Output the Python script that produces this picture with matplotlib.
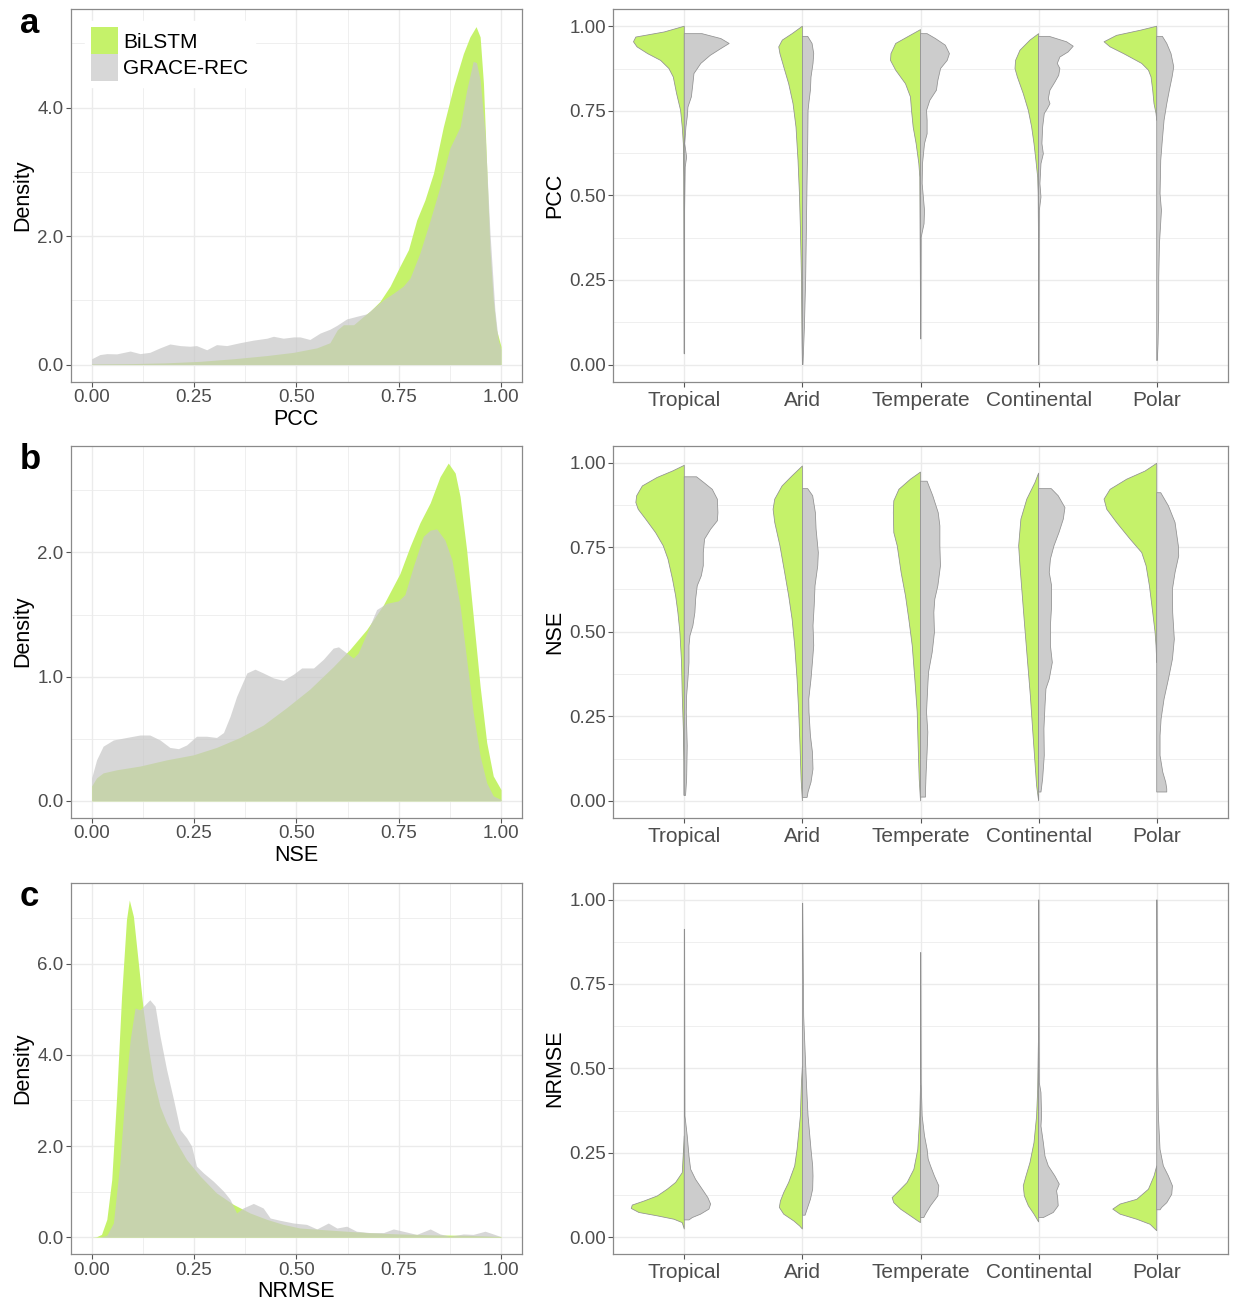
import numpy as np
import matplotlib
matplotlib.use("Agg")
import matplotlib.pyplot as plt
from matplotlib.patches import Patch, Polygon
from matplotlib.ticker import MultipleLocator, FixedLocator

plt.rcParams['font.family'] = ['Liberation Sans', 'DejaVu Sans']

categories = ["Tropical", "Arid", "Temperate", "Continental", "Polar"]
models = ["BiLSTM", "GRACE-REC"]
metrics = ["PCC", "NSE", "NRMSE"]
panel_letters = ["a", "b", "c"]

# ---------------- density curves (x, density) ----------------
pcc_bilstm_x = [0, 0.1, 0.18, 0.265, 0.346, 0.428, 0.493, 0.55, 0.582, 0.6, 0.615, 0.64, 0.664, 0.68,
                0.704, 0.729, 0.753, 0.774, 0.794, 0.814, 0.835, 0.859, 0.884, 0.908, 0.924, 0.939,
                0.949, 0.957, 0.965, 0.973, 0.981, 0.989, 1.0]
pcc_bilstm_y = [0.01, 0.015, 0.026, 0.05, 0.09, 0.14, 0.19, 0.26, 0.34, 0.54, 0.62, 0.62, 0.75, 0.83,
                0.98, 1.22, 1.53, 1.79, 2.25, 2.56, 2.98, 3.70, 4.33, 4.84, 5.10, 5.26,
                5.10, 4.38, 3.08, 1.79, 1.01, 0.54, 0.28]
pcc_grace_x = [0, 0.02, 0.037, 0.061, 0.094, 0.118, 0.142, 0.167, 0.191, 0.216, 0.24, 0.256, 0.281,
               0.305, 0.33, 0.362, 0.395, 0.428, 0.444, 0.468, 0.493, 0.509, 0.533, 0.558, 0.582,
               0.599, 0.623, 0.647, 0.672, 0.696, 0.713, 0.737, 0.761, 0.778, 0.802, 0.827, 0.851,
               0.875, 0.9, 0.916, 0.932, 0.94, 0.949, 0.961, 0.973, 0.985, 0.993, 1.0]
pcc_grace_y = [0.09, 0.155, 0.17, 0.166, 0.21, 0.17, 0.19, 0.26, 0.32, 0.295, 0.285, 0.295, 0.23,
               0.31, 0.295, 0.34, 0.38, 0.41, 0.44, 0.41, 0.43, 0.43, 0.39, 0.49, 0.55,
               0.61, 0.71, 0.75, 0.79, 0.92, 1.01, 1.11, 1.22, 1.35, 1.74, 2.25, 2.77,
               3.37, 3.70, 4.27, 4.72, 4.70, 4.43, 3.60, 2.05, 0.85, 0.39, 0.23]

nse_bilstm_x = [0, 0.012, 0.028, 0.061, 0.118, 0.183, 0.248, 0.305, 0.362, 0.419, 0.476, 0.533, 0.59,
                0.631, 0.672, 0.713, 0.753, 0.778, 0.802, 0.827, 0.851, 0.871, 0.888, 0.9, 0.916,
                0.932, 0.949, 0.965, 0.981, 1.0]
nse_bilstm_y = [0.12, 0.185, 0.225, 0.25, 0.28, 0.33, 0.37, 0.43, 0.51, 0.61, 0.75, 0.90, 1.08,
                1.22, 1.38, 1.58, 1.83, 2.05, 2.24, 2.40, 2.61, 2.72, 2.64, 2.45, 2.02,
                1.49, 0.92, 0.47, 0.20, 0.09]
nse_grace_x = [0, 0.012, 0.028, 0.053, 0.085, 0.118, 0.142, 0.167, 0.191, 0.212, 0.232, 0.256, 0.281,
               0.305, 0.322, 0.338, 0.354, 0.379, 0.399, 0.419, 0.444, 0.468, 0.493, 0.513, 0.542,
               0.566, 0.59, 0.603, 0.623, 0.639, 0.651, 0.672, 0.696, 0.72, 0.749, 0.765, 0.786,
               0.81, 0.827, 0.843, 0.863, 0.88, 0.9, 0.916, 0.932, 0.949, 0.965, 0.981, 1.0]
nse_grace_y = [0.185, 0.33, 0.44, 0.49, 0.51, 0.53, 0.53, 0.49, 0.43, 0.42, 0.45, 0.52, 0.52,
               0.51, 0.55, 0.68, 0.84, 1.03, 1.06, 1.03, 0.99, 0.97, 1.02, 1.07, 1.07,
               1.14, 1.23, 1.24, 1.19, 1.15, 1.19, 1.35, 1.54, 1.59, 1.61, 1.66, 1.89,
               2.13, 2.18, 2.19, 2.10, 1.94, 1.57, 1.14, 0.71, 0.36, 0.145, 0.04, 0.01]

nrmse_bilstm_x = [0, 0.012, 0.024, 0.037, 0.049, 0.061, 0.073, 0.085, 0.092, 0.102, 0.114, 0.126,
                  0.138, 0.151, 0.167, 0.183, 0.208, 0.232, 0.265, 0.305, 0.346, 0.387, 0.428,
                  0.468, 0.509, 0.59, 0.672, 0.753, 0.835, 0.916, 1.0]
nrmse_bilstm_y = [0, 0.01, 0.06, 0.39, 1.26, 3.09, 5.28, 6.97, 7.40, 7.04, 6.02, 4.99,
                  4.19, 3.46, 2.87, 2.51, 2.07, 1.70, 1.34, 0.97, 0.72, 0.53, 0.39,
                  0.28, 0.20, 0.15, 0.10, 0.07, 0.05, 0.04, 0.015]
nrmse_grace_x = [0, 0.02, 0.037, 0.053, 0.069, 0.081, 0.094, 0.106, 0.118, 0.13, 0.142, 0.155, 0.167,
                 0.183, 0.2, 0.216, 0.232, 0.244, 0.256, 0.273, 0.297, 0.322, 0.338, 0.354, 0.37,
                 0.395, 0.419, 0.436, 0.46, 0.493, 0.525, 0.55, 0.578, 0.599, 0.623, 0.647, 0.68,
                 0.713, 0.737, 0.761, 0.794, 0.827, 0.851, 0.875, 0.908, 0.932, 0.961, 0.981, 1.0]
nrmse_grace_y = [0, 0, 0.04, 0.31, 1.63, 3.09, 4.33, 5.03, 4.99, 5.10, 5.21, 5.07, 4.41,
                 3.68, 3.02, 2.36, 2.18, 2.0, 1.56, 1.41, 1.23, 1.01, 0.83, 0.53, 0.64,
                 0.74, 0.64, 0.42, 0.37, 0.31, 0.28, 0.18, 0.31, 0.20, 0.24, 0.13, 0.10,
                 0.10, 0.18, 0.13, 0.06, 0.18, 0.07, 0.02, 0.07, 0.06, 0.13, 0.07, 0.01]

# ---------------- half-violin profiles: (metric value, half width) ----------------
pcc_bilstm_violin = {
    "Tropical": ([1.0, 0.983, 0.968, 0.954, 0.939, 0.919, 0.899, 0.875, 0.850, 0.801, 0.751, 0.702, 0.653, 0.554, 0.30, 0.032],
                 [0, 0.17, 0.41, 0.43, 0.40, 0.31, 0.20, 0.13, 0.093, 0.065, 0.031, 0.017, 0.008, 0.004, 0.002, 0.0]),
    "Arid": ([1.0, 0.978, 0.959, 0.939, 0.919, 0.880, 0.830, 0.771, 0.702, 0.604, 0.505, 0.406, 0.258, 0.061, 0.0],
             [0, 0.087, 0.17, 0.20, 0.19, 0.158, 0.116, 0.079, 0.054, 0.037, 0.025, 0.017, 0.008, 0.003, 0.0]),
    "Temperate": ([0.990, 0.968, 0.949, 0.919, 0.899, 0.870, 0.830, 0.791, 0.751, 0.702, 0.653, 0.594, 0.554, 0.357, 0.16],
                  [0, 0.113, 0.21, 0.25, 0.254, 0.21, 0.127, 0.085, 0.076, 0.062, 0.037, 0.014, 0.006, 0.003, 0.0]),
    "Continental": ([0.978, 0.959, 0.929, 0.899, 0.875, 0.850, 0.801, 0.751, 0.702, 0.653, 0.604, 0.554, 0.505, 0.406, 0.0],
                    [0, 0.073, 0.158, 0.195, 0.20, 0.18, 0.13, 0.087, 0.059, 0.039, 0.023, 0.008, 0.004, 0.002, 0.0]),
    "Polar": ([1.0, 0.988, 0.973, 0.954, 0.939, 0.919, 0.890, 0.870, 0.850, 0.811, 0.771, 0.742, 0.722],
              [0, 0.14, 0.34, 0.446, 0.395, 0.28, 0.127, 0.07, 0.048, 0.034, 0.023, 0.006, 0.0]),
}
pcc_grace_violin = {
    "Tropical": ([0.978, 0.9635, 0.949, 0.934, 0.914, 0.890, 0.860, 0.830, 0.791, 0.761, 0.732, 0.702, 0.653, 0.613, 0.584, 0.456, 0.032],
                 [0.15, 0.31, 0.38, 0.31, 0.22, 0.14, 0.082, 0.073, 0.06, 0.031, 0.025, 0.014, 0.004, 0.02, 0.008, 0.003, 0.003]),
    "Arid": ([0.970, 0.949, 0.919, 0.890, 0.850, 0.811, 0.771, 0.751, 0.653, 0.554, 0.406, 0.258, 0.110, 0.0],
             [0.045, 0.082, 0.096, 0.09, 0.073, 0.068, 0.054, 0.048, 0.045, 0.04, 0.034, 0.028, 0.017, 0.005]),
    "Temperate": ([0.978, 0.9635, 0.944, 0.919, 0.899, 0.875, 0.840, 0.811, 0.781, 0.751, 0.722, 0.682, 0.653, 0.594, 0.535, 0.456, 0.416, 0.377, 0.258, 0.076],
                  [0.056, 0.127, 0.21, 0.245, 0.226, 0.17, 0.147, 0.135, 0.079, 0.051, 0.056, 0.056, 0.034, 0.017, 0.014, 0.034, 0.03, 0.006, 0.005, 0.004]),
    "Continental": ([0.970, 0.954, 0.941, 0.924, 0.909, 0.890, 0.875, 0.855, 0.835, 0.811, 0.786, 0.771, 0.756, 0.742, 0.702, 0.653, 0.623, 0.594, 0.535, 0.495, 0.456, 0.0],
                    [0.09, 0.237, 0.293, 0.25, 0.18, 0.158, 0.18, 0.17, 0.138, 0.096, 0.082, 0.096, 0.073, 0.048, 0.034, 0.028, 0.04, 0.02, 0.011, 0.02, 0.006, 0.003]),
    "Polar": ([0.970, 0.949, 0.919, 0.880, 0.850, 0.811, 0.771, 0.722, 0.653, 0.604, 0.505, 0.456, 0.357, 0.258, 0.160, 0.061, 0.012],
              [0.048, 0.085, 0.121, 0.144, 0.13, 0.107, 0.085, 0.062, 0.045, 0.034, 0.028, 0.04, 0.023, 0.017, 0.017, 0.011, 0.005]),
}

nse_bilstm_violin = {
    "Tropical": ([0.992, 0.975, 0.956, 0.931, 0.902, 0.882, 0.862, 0.833, 0.793, 0.754, 0.715, 0.656, 0.606, 0.557, 0.498, 0.409, 0.311, 0.213, 0.114, 0.016],
                 [0, 0.10, 0.23, 0.355, 0.403, 0.41, 0.39, 0.327, 0.243, 0.178, 0.138, 0.10, 0.073, 0.054, 0.037, 0.023, 0.017, 0.008, 0.003, 0.002]),
    "Arid": ([0.990, 0.961, 0.931, 0.892, 0.862, 0.823, 0.754, 0.675, 0.606, 0.537, 0.459, 0.360, 0.262, 0.163, 0.065, 0.0],
             [0, 0.087, 0.172, 0.234, 0.248, 0.234, 0.19, 0.15, 0.116, 0.087, 0.065, 0.045, 0.031, 0.02, 0.011, 0]),
    "Temperate": ([0.972, 0.951, 0.921, 0.887, 0.852, 0.793, 0.754, 0.675, 0.606, 0.537, 0.459, 0.360, 0.262, 0.163, 0.065, 0.0],
                  [0, 0.085, 0.183, 0.226, 0.23, 0.226, 0.197, 0.164, 0.127, 0.099, 0.07, 0.048, 0.028, 0.02, 0.011, 0]),
    "Continental": ([0.969, 0.941, 0.892, 0.833, 0.754, 0.695, 0.606, 0.508, 0.409, 0.311, 0.213, 0.114, 0.045, 0.0],
                    [0, 0.031, 0.10, 0.15, 0.169, 0.158, 0.138, 0.116, 0.093, 0.07, 0.051, 0.031, 0.017, 0]),
    "Polar": ([0.998, 0.975, 0.951, 0.921, 0.892, 0.862, 0.823, 0.774, 0.734, 0.695, 0.636, 0.557, 0.498, 0.459, 0.409],
              [0, 0.099, 0.254, 0.395, 0.446, 0.423, 0.34, 0.226, 0.127, 0.09, 0.062, 0.034, 0.014, 0.006, 0]),
}
nse_grace_violin = {
    "Tropical": ([0.958, 0.941, 0.921, 0.892, 0.852, 0.828, 0.803, 0.774, 0.734, 0.695, 0.665, 0.636, 0.596, 0.557, 0.518, 0.488, 0.459, 0.409, 0.360, 0.311, 0.262, 0.163, 0.065, 0.016],
                 [0.104, 0.166, 0.237, 0.28, 0.285, 0.28, 0.223, 0.172, 0.161, 0.161, 0.144, 0.11, 0.096, 0.09, 0.073, 0.048, 0.04, 0.04, 0.031, 0.02, 0.017, 0.025, 0.02, 0.011]),
    "Arid": ([0.923, 0.902, 0.852, 0.803, 0.734, 0.695, 0.636, 0.577, 0.518, 0.459, 0.419, 0.360, 0.301, 0.262, 0.193, 0.144, 0.094, 0.055, 0.026, 0.010],
             [0.045, 0.087, 0.11, 0.116, 0.135, 0.13, 0.107, 0.10, 0.09, 0.096, 0.087, 0.073, 0.054, 0.056, 0.068, 0.085, 0.09, 0.073, 0.048, 0.04]),
    "Temperate": ([0.945, 0.902, 0.852, 0.813, 0.754, 0.695, 0.636, 0.596, 0.557, 0.498, 0.439, 0.380, 0.341, 0.262, 0.203, 0.144, 0.085, 0.026, 0.011],
                  [0.056, 0.104, 0.15, 0.164, 0.164, 0.169, 0.147, 0.121, 0.113, 0.118, 0.099, 0.068, 0.062, 0.051, 0.062, 0.056, 0.048, 0.042, 0.042]),
    "Continental": ([0.923, 0.902, 0.867, 0.833, 0.793, 0.754, 0.715, 0.675, 0.636, 0.577, 0.518, 0.459, 0.409, 0.360, 0.331, 0.281, 0.213, 0.134, 0.065, 0.026],
                    [0.107, 0.166, 0.223, 0.209, 0.172, 0.13, 0.10, 0.09, 0.11, 0.11, 0.10, 0.10, 0.116, 0.09, 0.062, 0.054, 0.045, 0.048, 0.034, 0.02]),
    "Polar": ([0.911, 0.872, 0.823, 0.754, 0.724, 0.675, 0.626, 0.557, 0.478, 0.419, 0.360, 0.301, 0.242, 0.193, 0.134, 0.085, 0.055, 0.035, 0.026],
              [0.034, 0.099, 0.155, 0.183, 0.186, 0.155, 0.133, 0.135, 0.149, 0.133, 0.099, 0.062, 0.037, 0.028, 0.028, 0.051, 0.076, 0.085, 0.085]),
}

nrmse_bilstm_violin = {
    "Tropical": ([0.30, 0.191, 0.162, 0.142, 0.122, 0.107, 0.095, 0.085, 0.073, 0.063, 0.053, 0.043, 0.024],
                 [0.0, 0.017, 0.073, 0.144, 0.228, 0.34, 0.44, 0.449, 0.384, 0.228, 0.087, 0.017, 0.0]),
    "Arid": ([0.506, 0.457, 0.359, 0.260, 0.211, 0.162, 0.132, 0.107, 0.088, 0.068, 0.048, 0.033, 0.024],
             [0.0, 0.008, 0.017, 0.045, 0.065, 0.116, 0.158, 0.186, 0.195, 0.158, 0.073, 0.023, 0]),
    "Temperate": ([0.45, 0.359, 0.260, 0.201, 0.162, 0.137, 0.117, 0.102, 0.083, 0.063, 0.048, 0.043],
                  [0.0, 0.006, 0.023, 0.056, 0.113, 0.183, 0.24, 0.226, 0.169, 0.085, 0.023, 0]),
    "Continental": ([0.62, 0.556, 0.437, 0.359, 0.280, 0.221, 0.181, 0.152, 0.122, 0.093, 0.068, 0.045],
                    [0.0, 0.003, 0.008, 0.017, 0.039, 0.073, 0.107, 0.13, 0.121, 0.087, 0.039, 0]),
    "Polar": ([0.211, 0.181, 0.142, 0.112, 0.098, 0.083, 0.068, 0.053, 0.038, 0.019],
              [0, 0.023, 0.07, 0.169, 0.31, 0.372, 0.31, 0.169, 0.056, 0]),
}
nrmse_grace_violin = {
    "Tropical": ([0.912, 0.359, 0.300, 0.240, 0.201, 0.171, 0.142, 0.117, 0.098, 0.083, 0.068, 0.058, 0.051],
                 [0.003, 0.006, 0.025, 0.04, 0.054, 0.096, 0.152, 0.2, 0.223, 0.209, 0.138, 0.068, 0.04]),
    "Arid": ([0.989, 0.654, 0.457, 0.359, 0.260, 0.211, 0.181, 0.142, 0.112, 0.083, 0.065],
             [0.003, 0.011, 0.034, 0.048, 0.073, 0.087, 0.09, 0.087, 0.068, 0.04, 0.023]),
    "Temperate": ([0.843, 0.457, 0.359, 0.300, 0.260, 0.231, 0.211, 0.181, 0.152, 0.122, 0.093, 0.068, 0.058],
                  [0.003, 0.006, 0.014, 0.034, 0.056, 0.065, 0.085, 0.118, 0.155, 0.147, 0.085, 0.042, 0.028]),
    "Continental": ([0.999, 0.457, 0.428, 0.359, 0.329, 0.280, 0.240, 0.211, 0.181, 0.157, 0.137, 0.117, 0.093, 0.073, 0.058],
                    [0.003, 0.006, 0.02, 0.025, 0.02, 0.04, 0.054, 0.082, 0.138, 0.175, 0.152, 0.161, 0.166, 0.124, 0.04]),
    "Polar": ([0.999, 0.556, 0.359, 0.260, 0.211, 0.181, 0.152, 0.127, 0.102, 0.088, 0.081],
              [0.003, 0.006, 0.014, 0.028, 0.056, 0.099, 0.133, 0.127, 0.085, 0.042, 0.028]),
}

density_data = [
    ((pcc_bilstm_x, pcc_bilstm_y), (pcc_grace_x, pcc_grace_y)),
    ((nse_bilstm_x, nse_bilstm_y), (nse_grace_x, nse_grace_y)),
    ((nrmse_bilstm_x, nrmse_bilstm_y), (nrmse_grace_x, nrmse_grace_y)),
]
violin_data = [
    (pcc_bilstm_violin, pcc_grace_violin),
    (nse_bilstm_violin, nse_grace_violin),
    (nrmse_bilstm_violin, nrmse_grace_violin),
]
density_ylim = [(-0.264, 5.53), (-0.136, 2.86), (-0.37, 7.78)]
density_major = [2.0, 1.0, 2.0]

# ---------------- style ----------------
GREEN = "#C5F26A"
GREY_DENS = "#C8C8C8"
GREY_VIO = "#CCCCCC"
OUTLINE = "#909090"
GRID = "#EBEBEB"
FRAME = "#8A8A8A"
TICKLAB = "#4D4D4D"
FS_TICK = 13.5
FS_CAT = 15
FS_TITLE = 15.5
FS_LEG = 15

W, H = 1235, 1304
fig = plt.figure(figsize=(W / 100, H / 100), dpi=100)

rows_px = [(9.3, 381.5), (445.7, 817.7), (882.7, 1254.0)]
left_px = (71.2, 521.5)
right_px = (613.4, 1227.6)


def style_axes(ax):
    for s in ax.spines.values():
        s.set_color(FRAME)
        s.set_linewidth(0.9)
    ax.tick_params(axis="both", which="major", length=3.5, width=0.8, color="#555555",
                   labelsize=FS_TICK, labelcolor=TICKLAB, pad=2)
    ax.tick_params(axis="both", which="minor", length=0)
    ax.grid(True, which="major", color=GRID, linewidth=1.0)
    ax.grid(True, which="minor", color=GRID, linewidth=0.55)
    ax.set_axisbelow(True)


for r in range(3):
    top, bot = rows_px[r]
    yb = 1 - bot / H
    hh = (bot - top) / H

    # ---- density panel ----
    ax = fig.add_axes([left_px[0] / W, yb, (left_px[1] - left_px[0]) / W, hh])
    (bx, by), (gx, gy) = density_data[r]
    ax.fill_between(bx, 0, by, color=GREEN, alpha=1.0, linewidth=0, zorder=2)
    ax.fill_between(gx, 0, gy, color=GREY_DENS, alpha=0.72, linewidth=0, zorder=3)
    ax.set_xlim(-0.05, 1.05)
    ax.set_ylim(*density_ylim[r])
    ax.xaxis.set_major_locator(MultipleLocator(0.25))
    ax.xaxis.set_minor_locator(MultipleLocator(0.125))
    ax.yaxis.set_major_locator(MultipleLocator(density_major[r]))
    ax.yaxis.set_minor_locator(MultipleLocator(density_major[r] / 2))
    ax.xaxis.set_major_formatter(matplotlib.ticker.FormatStrFormatter("%.2f"))
    ax.yaxis.set_major_formatter(matplotlib.ticker.FormatStrFormatter("%.1f"))
    style_axes(ax)
    ax.set_xlabel(metrics[r], fontsize=FS_TITLE, color="black", labelpad=2)
    ax.set_ylabel("Density", fontsize=FS_TITLE, color="black", labelpad=3)
    fig.text(20 / W, 1 - (top + 14) / H, panel_letters[r], fontsize=25, fontweight="bold",
             ha="left", va="center", color="black")

    if r == 0:
        handles = [Patch(facecolor=GREEN, edgecolor="none"),
                   Patch(facecolor="#D7D7D7", edgecolor="none")]
        leg = ax.legend(handles, models, loc="upper left", bbox_to_anchor=(0.03, 0.968),
                        borderaxespad=0, borderpad=0.3, frameon=True, fancybox=False,
                        handlelength=1.3, handleheight=1.6, handletextpad=0.25,
                        labelspacing=0.0, fontsize=FS_LEG)
        leg.get_frame().set_facecolor("white")
        leg.get_frame().set_edgecolor("white")
        leg.get_frame().set_alpha(1.0)

    # ---- violin panel ----
    ax2 = fig.add_axes([right_px[0] / W, yb, (right_px[1] - right_px[0]) / W, hh])
    bil, gra = violin_data[r]
    for i, cat in enumerate(categories):
        c = i + 1
        for prof, sign, col in ((bil, -1, GREEN), (gra, 1, GREY_VIO)):
            ys, ws = prof[cat]
            order = np.argsort(ys)
            ys = np.asarray(ys)[order]
            ws = np.asarray(ws)[order]
            pts = [(c, ys[0])] + [(c + sign * w, y) for y, w in zip(ys, ws)] + [(c, ys[-1])]
            poly = Polygon(pts, closed=True, facecolor=col, edgecolor=OUTLINE,
                           linewidth=0.55, zorder=3, joinstyle="round")
            ax2.add_patch(poly)
    ax2.set_xlim(0.4, 5.6)
    ax2.set_ylim(-0.05, 1.05)
    ax2.xaxis.set_major_locator(FixedLocator([1, 2, 3, 4, 5]))
    ax2.set_xticklabels(categories)
    ax2.yaxis.set_major_locator(MultipleLocator(0.25))
    ax2.yaxis.set_minor_locator(MultipleLocator(0.125))
    ax2.yaxis.set_major_formatter(matplotlib.ticker.FormatStrFormatter("%.2f"))
    style_axes(ax2)
    ax2.tick_params(axis="x", labelsize=FS_CAT, pad=3)
    ax2.set_ylabel(metrics[r], fontsize=FS_TITLE, color="black", labelpad=3)

fig.savefig("out.png", dpi=100)
